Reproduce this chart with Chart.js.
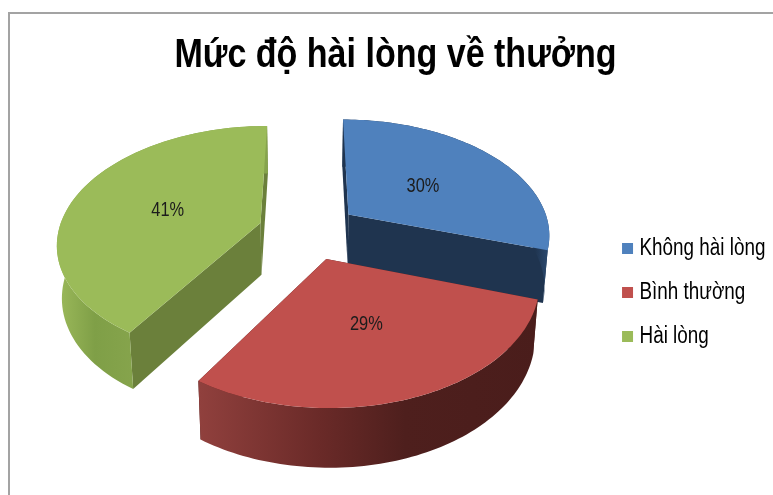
<!DOCTYPE html>
<html lang="vi">
<head>
<meta charset="utf-8">
<title>Mức độ hài lòng về thưởng</title>
<script src="https://cdn.jsdelivr.net/npm/chart.js@4"></script>
<style>
  html, body { margin: 0; padding: 0; background: #fff; overflow: hidden; }
  #frame { position: absolute; left: 8px; top: 12px; width: 773px; height: 495px;
    border-left: 2px solid #a3a3a3; border-top: 2px solid #a3a3a3; }
  #myChart { position: absolute; left: 0; top: 0; }
</style>
</head>
<body>
<div id="frame"></div>
<canvas id="myChart" width="773" height="495"></canvas>
<script>
const categories = ['Không hài lòng', 'Bình thường', 'Hài lòng'];
const values = [30, 29, 41];
const titleText = 'Mức độ hài lòng về thưởng';

const topColors = ['#4f81bd', '#c0504d', '#9bbb59'];
const cutColors = ['#1f344f', '#4e1f1d', '#6b803b'];
const rimStops = [
  [[340, '#1f344f'], [535, '#1f344f'], [552, '#2f5079']],
  [[200, '#90403d'], [320, '#6a2a28'], [405, '#4e1f1d'], [540, '#4a1d1b']],
  [[58, '#9bb95a'], [95, '#7f9f47'], [135, '#86a44c']],
];

// 3D view of the pie: plane centre, scale, perspective, explode, thickness
const view = { cx: 308.5, cy: 231, fx: 202, fy: 115, k: 0.16, explode: 0.25, depth: 52, shrink: 0.98 };
const drawOrder = [2, 0, 1];

// the reference text is a narrow face, none is installed, so glyphs get squeezed
const textSqueeze = 0.82;

function project(x, y) {
  const w = 1 / (1 - view.k * y);
  return { x: view.cx + view.fx * x * w, y: view.cy + view.fy * y * w, w };
}

function lower(p) {
  return { x: view.cx + (p.x - view.cx) * view.shrink, y: p.y + view.depth * (0.4 + 0.6 * p.w) };
}

function trace(ctx, points) {
  ctx.beginPath();
  points.forEach((p, i) => (i ? ctx.lineTo(p.x, p.y) : ctx.moveTo(p.x, p.y)));
  ctx.closePath();
}

function drawSlice(ctx, arc, i) {
  const { startAngle, endAngle } = arc.getProps(['startAngle', 'endAngle'], true);
  const mid = (startAngle + endAngle) / 2;
  const ox = Math.cos(mid) * view.explode;
  const oy = Math.sin(mid) * view.explode;
  const apex = project(ox, oy);
  const edge = [];
  for (let s = 0; s <= 80; s++) {
    const a = startAngle + ((endAngle - startAngle) * s) / 80;
    edge.push(project(ox + Math.cos(a), oy + Math.sin(a)));
  }
  const first = edge[0];
  const last = edge[edge.length - 1];

  // cut faces
  ctx.fillStyle = cutColors[i];
  trace(ctx, [apex, first, lower(first), lower(apex)]);
  ctx.fill();
  trace(ctx, [apex, last, lower(last), lower(apex)]);
  ctx.fill();

  // outer rim
  const grad = ctx.createLinearGradient(0, 0, 773, 0);
  rimStops[i].forEach(([x, c]) => grad.addColorStop(x / 773, c));
  ctx.fillStyle = grad;
  trace(ctx, edge.concat(edge.map(lower).reverse()));
  ctx.fill();

  // top face
  ctx.fillStyle = topColors[i];
  trace(ctx, [apex].concat(edge));
  ctx.fill();

  // percent label
  const total = values.reduce((a, b) => a + b, 0);
  const spot = project(ox + Math.cos(mid) * 0.5, oy + Math.sin(mid) * 0.5);
  ctx.fillStyle = '#1c1c1c';
  ctx.font = '20px "Liberation Sans"';
  ctx.textAlign = 'center';
  ctx.textBaseline = 'middle';
  ctx.fillText(Math.round((values[i] / total) * 100) + '%', spot.x, spot.y + 2.5);
}

const pie3d = {
  id: 'pie3d',
  beforeDatasetDraw(chart) {
    const ctx = chart.ctx;
    const arcs = chart.getDatasetMeta(0).data;
    ctx.save();
    drawOrder.forEach((i) => drawSlice(ctx, arcs[i], i));
    ctx.restore();
    return false;
  },
};

const data = {
  labels: categories,
  datasets: [
    {
      data: values,
      backgroundColor: topColors,
      borderWidth: 0,
    },
  ],
};

const config = {
  type: 'pie',
  data: data,
  options: {
    responsive: false,
    animation: false,
    rotation: 0,
    layout: { padding: { left: -12, right: -30, top: 31, bottom: -59 } },
    plugins: {
      tooltip: { enabled: false },
      title: {
        display: true,
        text: titleText,
        color: '#000',
        font: { family: '"Liberation Sans"', size: 41.5, weight: 'bold' },
        padding: { top: 0, bottom: 40 },
      },
      legend: {
        display: true,
        position: 'right',
        labels: {
          color: '#000',
          font: { family: '"Liberation Sans"', size: 23 },
          usePointStyle: true,
          pointStyle: 'rect',
          boxWidth: 1,
          boxHeight: 11,
          padding: 21,
        },
      },
    },
  },
  plugins: [pie3d],
};

const canvas = document.getElementById('myChart');
const canvasCtx = canvas.getContext('2d');
const plainFillText = canvasCtx.fillText;
canvasCtx.fillText = function (text, x, y) {
  this.save();
  this.translate(x, y);
  this.scale(textSqueeze, 1);
  plainFillText.call(this, text, 0, 0);
  this.restore();
};

const myChart = new Chart(canvas, config);
</script>
</body>
</html>
